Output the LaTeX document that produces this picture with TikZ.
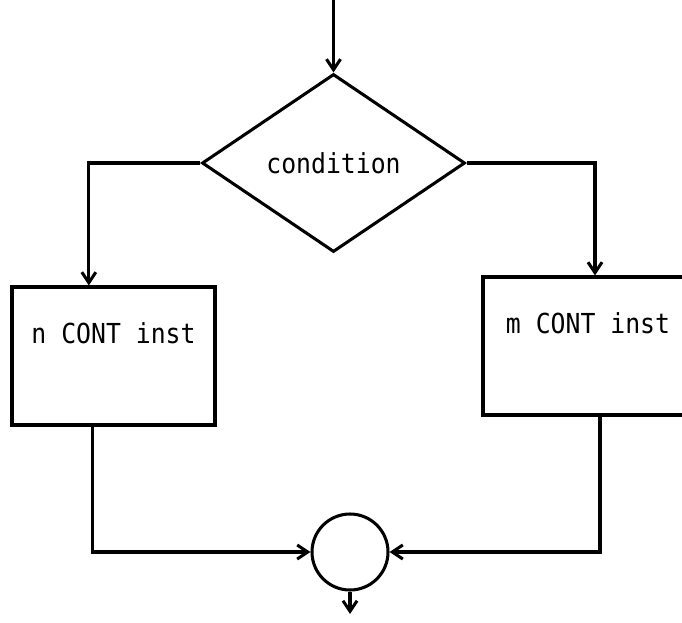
\documentclass[tikz,border=0pt]{standalone}
\usepackage{fontspec}
\newfontfamily\flowfont[FakeStretch=0.9]{DejaVu Sans Mono}
\usepackage{tikz}
\usetikzlibrary{arrows.meta}
\usetikzlibrary{positioning}
\usetikzlibrary{shapes.geometric}
\tikzset{
  fc_node/.style = {draw=black, line width=2.6pt, inner sep=0pt,
    font=\flowfont\fontsize{23.5}{26}\selectfont},
  fc_dec/.style = {fc_node, diamond, aspect=1.48, minimum width=7.89cm,
    minimum height=5.34cm},% losange de test
  fc_box/.style = {fc_node, rectangle, minimum height=4.14cm,
    text height=0.7em, text depth=1cm},% bloc d'instructions
  fc_join/.style = {fc_node, circle, minimum size=2.28cm}% point de jonction
}

\begin{document}
\begin{tikzpicture}[x=0.03cm, y=-0.03cm, ->,
  >={Straight Barb[length=9pt,width=12pt]}, line width=2.6pt]
\path[clip] (0,0) rectangle (682,622);
\node [fc_dec] (cond) at (333.5,163) {condition};
\node [fc_box, minimum width=6.09cm] (nbox) at (113.5,356) {n CONT inst};
\node [fc_box, minimum width=6.3cm] (mbox) at (588,346) {m CONT inst};
\node [fc_join] (join) at (350,552) {};
\coordinate (in) at (333.5,0);
\coordinate (out) at (350,614);

\draw (in) -- (cond.north);
\draw (cond.west) -| ([xshift=-0.74cm]nbox.north);
\draw (cond.east) -| ([xshift=0.21cm]mbox.north);
\draw ([xshift=-0.62cm]nbox.south) |- (join.west);
\draw ([xshift=0.36cm]mbox.south) |- (join.east);
\draw (join.south) -- (out);
%\node at (join) [xshift=1cm] {\ttfamily J};
\end{tikzpicture}
\end{document}
